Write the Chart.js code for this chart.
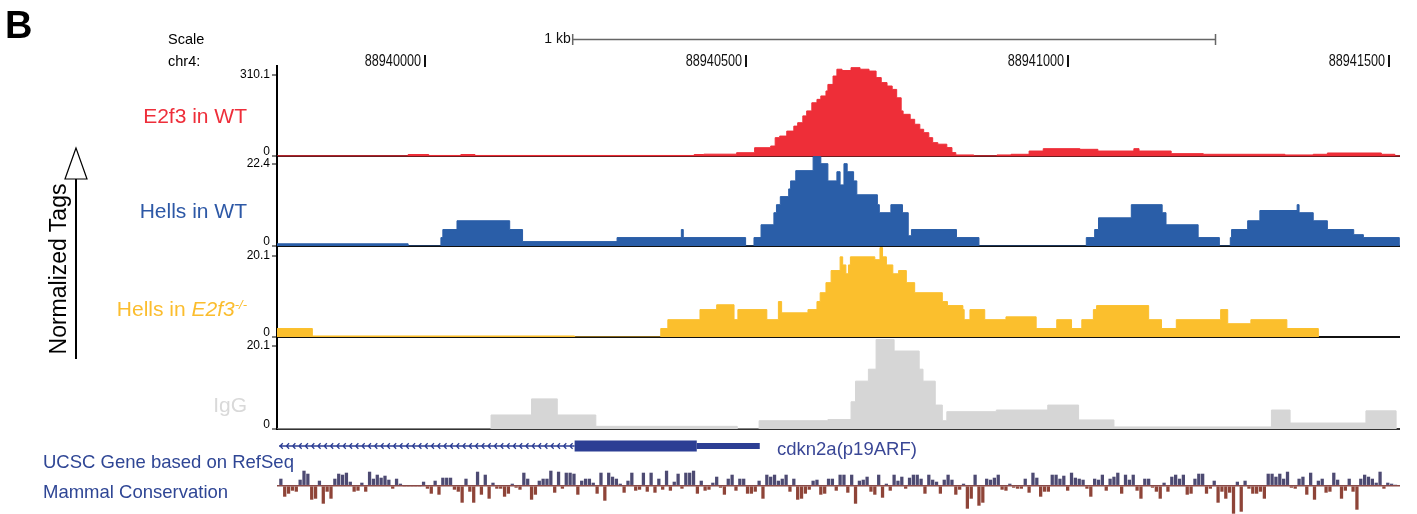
<!DOCTYPE html>
<html>
<head>
<meta charset="utf-8">
<title>chr4 cdkn2a tracks</title>
<script src="https://cdn.jsdelivr.net/npm/chart.js@4.4.1/dist/chart.umd.min.js"></script>
<style>
  body { margin: 0; background: #fff; }
  #wrap { position: relative; width: 1417px; height: 514px; overflow: hidden;
          font-family: 'Liberation Sans', Arial, sans-serif; }
  #tracks { position: absolute; left: 0; top: 0; }
  .lbl { position: absolute; white-space: nowrap; line-height: 1; }
  .track { right: 1170px; font-size: 21px; }
  .blue { color: #2f4695; font-size: 18.5px; }
  sup { font-size: 13px; vertical-align: 7px; line-height: 0; }
  #ntags { left: -42.5px; top: 256px; width: 200px; height: 26px; line-height: 26px;
           font-size: 23px; text-align: center; transform: rotate(-90deg); color: #000; }
  #arrow { position: absolute; left: 0; top: 0; }
</style>
</head>
<body>
<div id="wrap">
  <canvas id="tracks" width="1417" height="514"></canvas>
  <svg id="arrow" width="120" height="400">
    <line x1="76" y1="179" x2="76" y2="359" stroke="#000" stroke-width="2"/>
    <polygon points="76,148 65,179 87,179" fill="#fff" stroke="#000" stroke-width="1.2"/>
  </svg>
  <div class="lbl" style="left:5px; top:6px; font-size:38px; font-weight:bold;">B</div>
  <div class="lbl" style="left:168px; top:31.5px; font-size:14.5px;">Scale</div>
  <div class="lbl" style="left:168px; top:54px; font-size:14.5px;">chr4:</div>
  <div class="lbl" id="ntags">Normalized Tags</div>
  <div class="lbl track" style="top:105px; color:#ee2e3a;">E2f3 in WT</div>
  <div class="lbl track" style="top:200px; color:#2d58a6;">Hells in WT</div>
  <div class="lbl track" style="top:298px; color:#fbbd2e;">Hells in <i>E2f3</i><sup><i>-/-</i></sup></div>
  <div class="lbl track" style="top:394px; color:#d9d9d9;">IgG</div>
  <div class="lbl blue" style="left:777px; top:440px; color:#3a4796;">cdkn2a(p19ARF)</div>
  <div class="lbl blue" style="left:43px; top:453px;">UCSC Gene based on RefSeq</div>
  <div class="lbl blue" style="left:43px; top:483px;">Mammal Conservation</div>
</div>
<script>
// window on chr4 (bp)
const chromStart = 88939770;
const chromEnd = 88941517;
const rulerTicks = [88940000, 88940500, 88941000, 88941500];
const scaleBarStart = 88940230;
const scaleBarBp = 1000;

// E2f3 in WT, step starts and normalized tags
const e2f3Pos = [88939770, 88939974, 88940006, 88940056, 88940078, 88940419, 88940434, 88940485,
  88940513, 88940538, 88940545, 88940552, 88940563, 88940574, 88940580, 88940588, 88940594,
  88940602, 88940610, 88940616, 88940624, 88940627, 88940635, 88940641, 88940649, 88940663,
  88940677, 88940691, 88940702, 88940710, 88940719, 88940727, 88940734, 88940741, 88940744,
  88940755, 88940762, 88940770, 88940776, 88940784, 88940790, 88940798, 88940812, 88940820,
  88940826, 88940854, 88940890, 88940912, 88940940, 88940962, 88941019, 88941047, 88941103,
  88941111, 88941161, 88941211, 88941338, 88941382, 88941404, 88941488, 88941509, 88941517];
const e2f3Val = [0, 5.7, 2, 5.7, 2, 5.7, 7, 12.6,
  31.7, 38, 70, 76, 95, 114, 127, 153, 172,
  203, 216, 229, 248, 273, 305, 331, 326, 337,
  331, 324, 299, 280, 267, 254, 222, 172, 159,
  140, 121, 102, 89, 70, 51, 45, 32, 13,
  4, 0, 4, 6.5, 19, 28, 25.5, 19, 28,
  19, 9, 6.5, 4, 6.5, 11.5, 6.5, 0, 0];

// Hells in WT
const hellsPos = [88939770, 88939974, 88940025, 88940028, 88940050, 88940132, 88940152, 88940299,
  88940399, 88940402, 88940499, 88940512, 88940523, 88940543, 88940547, 88940553, 88940566,
  88940569, 88940577, 88940604, 88940616, 88940627, 88940641, 88940646, 88940652, 88940657,
  88940667, 88940672, 88940704, 88940707, 88940725, 88940743, 88940752, 88940757, 88940827,
  88940862, 88941029, 88941042, 88941048, 88941099, 88941147, 88941153, 88941203, 88941236,
  88941253, 88941255, 88941280, 88941299, 88941357, 88941360, 88941382, 88941404, 88941445,
  88941460, 88941516];
const hellsVal = [0.6, 0, 2.3, 4.5, 6.9, 4.5, 1.2, 2.3,
  4.5, 2.3, 0, 2.3, 5.8, 9.1, 11.3, 13.5, 15.6,
  17.8, 20.6, 24.4, 22.5, 17.8, 20.3, 16.7, 22.5, 20.3,
  17.8, 14.0, 11.3, 9.1, 11.3, 9.1, 2.8, 4.5, 2.3,
  0, 2.3, 4.5, 7.7, 11.3, 9.1, 5.8, 2.3, 0,
  2.3, 4.5, 6.9, 9.7, 11.3, 9.1, 6.9, 4.5, 3.1,
  2.3, 0];

// Hells in E2f3-/-
const hellsKoPos = [88939770, 88939825, 88940233, 88940367, 88940378, 88940428, 88940454, 88940481,
  88940487, 88940532, 88940550, 88940555, 88940596, 88940610, 88940615, 88940624, 88940632,
  88940646, 88940650, 88940655, 88940659, 88940662, 88940700, 88940708, 88940712, 88940718,
  88940728, 88940737, 88940749, 88940762, 88940805, 88940813, 88940837, 88940839, 88940848,
  88940871, 88940904, 88940951, 88940983, 88941006, 88941022, 88941040, 88941045, 88941126,
  88941146, 88941169, 88941238, 88941249, 88941285, 88941341, 88941390];
const hellsKoVal = [2.1, 0.25, 0, 2.1, 4.3, 6.8, 8.0, 4.3,
  6.8, 4.3, 8.8, 6.0, 6.8, 8.8, 11.0, 13.5, 16.5,
  19.9, 17.9, 15.7, 17.9, 19.9, 19.2, 22.2, 19.9, 17.9,
  15.7, 16.5, 13.5, 11.0, 8.8, 7.8, 6.8, 4.3, 6.8,
  4.3, 5.0, 2.1, 4.3, 2.1, 4.3, 6.8, 7.8, 4.3,
  2.1, 4.3, 6.8, 3.3, 4.3, 2.1, 0];

// IgG
const iggPos = [88939770, 88940103, 88940166, 88940206, 88940266, 88940486, 88940520, 88940627,
  88940663, 88940670, 88940690, 88940702, 88940730, 88940769, 88940775, 88940794, 88940805,
  88940812, 88940889, 88940969, 88941017, 88941072, 88941317, 88941346, 88941464, 88941511];
const iggVal = [0, 3.4, 7.3, 3.4, 0.65, 0, 2.0, 2.3,
  6.6, 11.6, 14.5, 21.7, 18.9, 14.5, 11.6, 5.8, 2.0,
  4.2, 4.6, 5.8, 2.2, 0.5, 4.6, 1.45, 4.4, 0];

// labelled top of each track's scale, and the view limit of each track
const trackTops = [310.1, 22.4, 20.1, 20.1];
const trackLimits = [343.3, 24.6, 22.6, 22.3];

// gene model (minus strand, runs off the left edge)
const geneTxStart = chromStart;
const geneCdsStart = 88940233;
const geneCdsEnd = 88940423;
const geneTxEnd = 88940521;

// mammal conservation, 6 bp bins
const consStart = 88939773;
const consStep = 6;
const consVal = [
  0.7,-1.1,-0.8,-0.5,-0.6,0.6,1.5,1.2,-1.4,-1.3,
  0.5,-1.8,-0.6,-1.3,0.7,1.2,1.1,1.3,0.4,-0.6,
  -0.5,0.3,-0.6,1.4,0.7,1.1,0.8,1.0,0.6,-0.3,
  0.7,0.2,-0.1,-0.1,-0.1,-0.1,-0.1,0.4,-0.3,-0.8,
  0.5,-0.9,0.8,0.8,0.8,-0.4,-0.6,-1.7,0.7,-0.6,
  -1.7,1.4,-0.9,1.1,-1.3,0.3,-0.3,-0.3,-1.1,-0.8,
  0.2,-0.2,-0.4,1.3,0.7,-1.4,-0.9,0.5,0.7,0.7,
  1.5,-0.7,1.4,-0.3,1.3,1.3,1.2,-0.9,0.5,0.7,
  0.7,0.3,-0.8,1.3,-1.5,1.3,0.9,0.7,0.2,-0.7,
  0.5,1.3,-0.5,-0.4,1.3,-0.6,1.3,-0.7,0.7,-0.4,
  1.5,-0.5,0.4,1.2,-0.3,1.3,1.3,1.5,-0.8,0.5,
  -0.5,-0.4,0.3,0.9,-0.2,-0.9,0.7,1.1,-0.5,0.7,
  0.7,-0.8,-0.8,-0.6,0.5,-1.3,1.1,0.9,1.1,0.5,
  0.7,1.1,-0.6,0.7,-1.4,-1.3,-0.8,-0.4,0.5,0.6,
  -0.9,-0.8,0.7,0.7,-0.5,1.1,1.1,-0.7,1.1,-1.8,
  0.5,0.6,0.9,-0.6,-0.9,1.1,-1.2,0.2,-0.5,1.1,
  0.5,0.9,-0.3,0.8,1.1,1.1,0.7,-0.8,1.1,0.6,
  0.4,-0.8,0.6,1.1,0.6,-0.9,-0.4,0.2,-2.3,-1.3,
  1.1,-2.0,-1.7,0.7,0.6,0.8,1.1,-0.4,-0.5,0.2,
  -0.2,-0.3,-0.3,0.7,-0.7,1.3,0.8,-1.1,-0.6,-0.6,
  1.1,1.1,0.7,1.0,-0.5,1.3,0.8,0.7,0.6,-0.3,
  -1.1,0.7,0.6,1.1,-0.5,0.7,0.9,1.3,-0.8,1.1,
  0.6,1.1,-0.5,-1.3,0.7,0.7,-0.2,-0.6,-1.3,0.3,
  -0.6,0.9,1.1,0.7,1.1,-0.9,-0.8,0.7,1.2,1.2,
  -0.8,-0.3,0.5,-1.7,-0.6,-1.3,-0.7,-2.8,0.4,-2.6,
  0.5,-0.3,-0.8,-0.8,-0.6,-1.3,1.2,1.2,0.9,1.2,
  0.7,1.4,-0.2,-0.3,0.7,0.9,-0.9,1.3,-1.4,0.5,
  0.7,-0.7,-0.6,1.3,0.6,-1.3,-0.5,0.7,-0.6,-2.4,
  0.7,1.1,0.9,0.7,0.3,1.4,-0.3,0.3,0.2,0.1];

const toPoints = (pos, val) => pos.map((p, i) => ({x: p, y: val[i]}));

Chart.defaults.font.family = "'Liberation Sans', Arial, sans-serif";

function stepTrack(pos, val, color, axis) {
  return {
    type: 'line',
    data: toPoints(pos, val),
    yAxisID: axis,
    stepped: true,
    fill: 'origin',
    backgroundColor: color,
    borderColor: color,
    borderWidth: 1,
    pointRadius: 0
  };
}

function fixWidth(s) {
  s.width = 44;
  s.paddingTop = 0;
  s.paddingBottom = 0;
}

function trackAxis(order, band, top, limit, zeroColor) {
  return {
    type: 'linear', position: 'left', stack: 'tracks', stackWeight: band, weight: order,
    min: 0, max: limit, offset: false, z: 1,
    border: {display: true, color: '#000', width: 2},
    grid: {
      color: c => (c.tick && c.tick.value === 0) ? zeroColor : 'rgba(0,0,0,0)',
      lineWidth: 2, tickColor: '#000', tickLength: 5, tickWidth: 1
    },
    // the zero label sits a little above its tick, as in the browser
    ticks: {autoSkip: false, padding: 2, color: '#000', font: {size: 12, lineHeight: '8px'},
            callback: v => v === 0 ? ['0', ''] : String(top)},
    afterBuildTicks: s => { s.ticks = [{value: 0}, {value: top}]; },
    afterFit: fixWidth
  };
}

const browserDecor = {
  id: 'browserDecor',
  afterDatasetsDraw(chart) {
    const {ctx, scales} = chart;
    const x = scales.x;
    ctx.save();

    // base position ruler
    ctx.fillStyle = '#111';
    ctx.strokeStyle = '#111';
    ctx.textAlign = 'right';
    ctx.textBaseline = 'middle';
    rulerTicks.forEach(p => {
      const px = Math.round(x.getPixelForValue(p));
      ctx.lineWidth = 2;
      ctx.beginPath(); ctx.moveTo(px, 55); ctx.lineTo(px, 67); ctx.stroke();
      ctx.save();
      ctx.translate(px - 4, 61.5);
      ctx.scale(0.79, 1);
      ctx.font = "16px 'Liberation Sans', Arial";
      ctx.fillText(String(p), 0, 0);
      ctx.restore();
    });

    // 1 kb scale bar
    const s0 = x.getPixelForValue(scaleBarStart);
    const s1 = x.getPixelForValue(scaleBarStart + scaleBarBp);
    ctx.strokeStyle = '#666';
    ctx.lineWidth = 1.5;
    ctx.beginPath();
    ctx.moveTo(s0, 39.5); ctx.lineTo(s1, 39.5);
    ctx.moveTo(s0, 34); ctx.lineTo(s0, 45);
    ctx.moveTo(s1, 34); ctx.lineTo(s1, 45);
    ctx.stroke();
    ctx.fillStyle = '#111';
    ctx.font = "14px 'Liberation Sans', Arial";
    ctx.fillText('1 kb', s0 - 2, 39.5);

    // gene model
    const gy = scales.yGene.getPixelForValue(0.5);
    const gx0 = x.getPixelForValue(geneTxStart);
    const gc0 = x.getPixelForValue(geneCdsStart);
    const gc1 = x.getPixelForValue(geneCdsEnd);
    const gx1 = x.getPixelForValue(geneTxEnd);
    ctx.strokeStyle = '#2c3e94';
    ctx.fillStyle = '#2c3e94';
    ctx.lineWidth = 1.3;
    ctx.beginPath();
    ctx.moveTo(gx0 + 2, gy); ctx.lineTo(gc0, gy);
    for (let cx = gx0 + 3; cx < gc0 - 3; cx += 6.3) {
      ctx.moveTo(cx + 2.8, gy - 2.8); ctx.lineTo(cx, gy); ctx.lineTo(cx + 2.8, gy + 2.8);
    }
    ctx.stroke();
    ctx.fillRect(gc0, gy - 5.5, gc1 - gc0, 11);
    ctx.fillRect(gc1, gy - 3, gx1 - gc1, 6);
    ctx.restore();
  }
};

new Chart(document.getElementById('tracks'), {
  type: 'line',
  data: {
    datasets: [
      stepTrack(e2f3Pos, e2f3Val, '#ee2e38', 'yE2f3'),
      stepTrack(hellsPos, hellsVal, '#2a5ea8', 'yHells'),
      stepTrack(hellsKoPos, hellsKoVal, '#fbbf2d', 'yKo'),
      stepTrack(iggPos, iggVal, '#d6d6d6', 'yIgg'),
      {
        type: 'bar',
        data: consVal.map((v, i) => ({x: consStart + consStep * i + consStep / 2, y: v})),
        yAxisID: 'yCons',
        backgroundColor: c => (c.raw && c.raw.y < 0) ? '#8e4438' : '#4d4a72',
        barPercentage: 0.85,
        categoryPercentage: 1
      }
    ]
  },
  options: {
    responsive: false,
    devicePixelRatio: 1,
    animation: false,
    events: [],
    layout: {padding: {left: 233, right: 17, top: 66, bottom: 0}},
    plugins: {legend: {display: false}, tooltip: {enabled: false}},
    scales: {
      x: {type: 'linear', min: chromStart, max: chromEnd, offset: false, display: false},
      yE2f3: trackAxis(6, 90, trackTops[0], trackLimits[0], '#6e1c20'),
      yHells: trackAxis(5, 90, trackTops[1], trackLimits[1], '#111'),
      yKo: trackAxis(4, 91, trackTops[2], trackLimits[2], '#111'),
      yIgg: trackAxis(3, 92, trackTops[3], trackLimits[3], '#333'),
      yGene: {
        type: 'linear', position: 'left', stack: 'tracks', stackWeight: 34, weight: 2,
        min: 0, max: 1, border: {display: false}, grid: {display: false},
        ticks: {display: false}, afterFit: fixWidth
      },
      yCons: {
        type: 'linear', position: 'left', stack: 'tracks', stackWeight: 51, weight: 1,
        min: -2.83, max: 2.27, border: {display: false},
        grid: {color: '#8a4a48', lineWidth: 1.5, drawTicks: false},
        ticks: {display: false},
        afterBuildTicks: s => { s.ticks = [{value: 0}]; },
        afterFit: fixWidth
      }
    }
  },
  plugins: [browserDecor]
});
</script>
</body>
</html>
